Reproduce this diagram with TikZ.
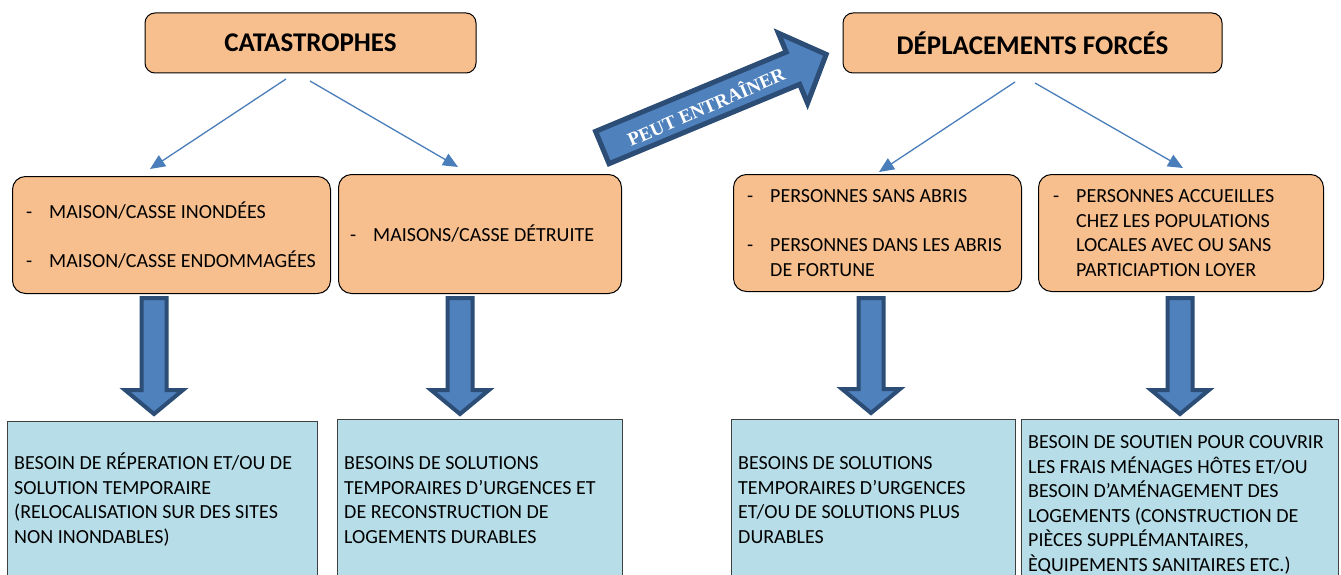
\documentclass[tikz,border=0pt]{standalone}
\usepackage{fontspec}
\setmainfont{Carlito}
\newfontfamily\serifb{Liberation Serif}
\usetikzlibrary{calc,arrows.meta}
\definecolor{orfill}{HTML}{F7BF8E}
\definecolor{bxfill}{HTML}{B7DEE8}
\definecolor{arfill}{HTML}{4F81BD}
\definecolor{arline}{HTML}{2C4D75}
\definecolor{thinblue}{HTML}{4A7EBB}
\newcommand\dashitem{\makebox[23pt][l]{-}}
\newcommand\bigdown[2]{%
  \draw[bigarrow] let \p1=(#1), \p2=(#2) in
    (\x1-12.5pt,\y1) -- (\x1-12.5pt,\y2+24pt) -- (\x1-29pt,\y2+24pt) -- (\x2,\y2)
    -- (\x1+29pt,\y2+24pt) -- (\x1+12.5pt,\y2+24pt) -- (\x1+12.5pt,\y1) -- cycle;}
\tikzset{
  titlebox/.style={draw=black, line width=1pt, fill=orfill, rounded corners=10pt,
    font=\fontsize{27}{30}\selectfont\bfseries, minimum height=60pt, inner sep=0pt},
  obox/.style={draw=black, line width=1pt, fill=orfill, rounded corners=13pt,
    anchor=north west, inner sep=0pt},
  otext/.style={anchor=west, align=left, inner sep=0pt, font=\fontsize{20}{24.5}\selectfont},
  bbox/.style={draw=black!75, line width=1.3pt, fill=bxfill, anchor=north west, inner sep=0pt},
  btext/.style={anchor=north west, align=left, inner sep=0pt, font=\fontsize{20}{24.5}\selectfont},
  thinarrow/.style={draw=thinblue, line width=1.3pt, -{Triangle[length=15pt,width=13pt]}, fill=none},
  bigarrow/.style={draw=arline, fill=arfill, line width=4pt, line join=miter},
  diagarrow/.style={draw=arline, fill=arfill, line width=5pt, line join=miter}
}
\begin{document}
\begin{tikzpicture}[x=1pt,y=-1pt]
\clip (0,0) rectangle (1341,575);
\fill[white] (0,0) rectangle (1341,575);

% titles
\node[titlebox, minimum width=331pt] (cat) at (310.5,43) {CATASTROPHES};
\node[titlebox, minimum width=379pt] (dep) at (1032.5,43) {DÉPLACEMENTS FORCÉS};

% orange boxes
\node[obox, minimum width=318pt, minimum height=117pt] (o1) at (12,176) {};
\node[obox, minimum width=283pt, minimum height=119pt] (o2) at (338,174) {};
\node[obox, minimum width=288pt, minimum height=117pt] (o3) at (733,174) {};
\node[obox, minimum width=285pt, minimum height=117pt] (o4) at (1038,174) {};

\node[otext] (ot1) at ($(o1.west)+(14,0)$)
  {\dashitem MAISON/CASSE INONDÉES\\[24.5pt]\dashitem MAISON/CASSE ENDOMMAGÉES};
\node[otext] (ot2) at ($(o2.west)+(12,0)$)
  {\dashitem MAISONS/CASSE DÉTRUITE};
\node[otext] (ot3) at ($(o3.west)+(14,0)$)
  {\dashitem PERSONNES SANS ABRIS\\[24.5pt]\dashitem PERSONNES DANS LES ABRIS\\\hspace*{23pt}DE FORTUNE};
\node[otext] (ot4) at ($(o4.west)+(15,0)$)
  {\dashitem PERSONNES ACCUEILLES\\\hspace*{23pt}CHEZ LES POPULATIONS\\\hspace*{23pt}LOCALES AVEC OU SANS\\\hspace*{23pt}PARTICIAPTION LOYER};

% blue boxes
\node[bbox, minimum width=310pt, minimum height=200pt] (b1) at (7,421) {};
\node[bbox, minimum width=285pt, minimum height=200pt] (b2) at (337,419) {};
\node[bbox, minimum width=284pt, minimum height=200pt] (b3) at (731,419) {};
\node[bbox, minimum width=317pt, minimum height=200pt] (b4) at (1021,419) {};

\node[btext] (bt1) at (14,452.3)
  {\strut BESOIN DE RÉPERATION ET/OU DE\\SOLUTION TEMPORAIRE\\(RELOCALISATION SUR DES SITES\\NON INONDABLES)};
\node[btext] (bt2) at (344,452.3)
  {\strut BESOINS DE SOLUTIONS\\TEMPORAIRES D’URGENCES ET\\DE RECONSTRUCTION DE\\LOGEMENTS DURABLES};
\node[btext] (bt3) at (738,452.3)
  {\strut BESOINS DE SOLUTIONS\\TEMPORAIRES D’URGENCES\\ET/OU DE SOLUTIONS PLUS\\DURABLES};
\node[btext] (bt4) at (1028,431.2)
  {\strut BESOIN DE SOUTIEN POUR COUVRIR\\LES FRAIS MÉNAGES HÔTES ET/OU\\BESOIN D’AMÉNAGEMENT DES\\LOGEMENTS (CONSTRUCTION DE\\PIÈCES SUPPLÉMANTAIRES,\\ÈQUIPEMENTS SANITAIRES ETC.)};

% thin connectors
\coordinate (c1s) at (286,79);  \coordinate (c1e) at (150,169);
\coordinate (c2s) at (310,81);  \coordinate (c2e) at (458,167);
\coordinate (d1s) at (1015,82); \coordinate (d1e) at (879,172);
\coordinate (d2s) at (1035,83); \coordinate (d2e) at (1183,168);
\draw[thinarrow] (c1s) -- (c1e);
\draw[thinarrow] (c2s) -- (c2e);
\draw[thinarrow] (d1s) -- (d1e);
\draw[thinarrow] (d2s) -- (d2e);

% big down arrows
\coordinate (a1t) at (154,298);   \coordinate (a1b) at (154,414);
\coordinate (a2t) at (460,298);   \coordinate (a2b) at (460,414);
\coordinate (a3t) at (871,298);   \coordinate (a3b) at (871,413);
\coordinate (a4t) at (1180,298);  \coordinate (a4b) at (1180,414);
\bigdown{a1t}{a1b}
\bigdown{a2t}{a2b}
\bigdown{a3t}{a3b}
\bigdown{a4t}{a4b}

% diagonal arrow
\coordinate (pa) at (600,148.5);
\begin{scope}[shift={(pa)}, rotate=22.6]
  \draw[diagarrow] (2.5,-17.5) -- (209,-17.5) -- (209,-38) -- (245,0) -- (209,38) -- (209,17.5) -- (2.5,17.5) -- cycle;
  \node[text=white, font=\serifb\fontsize{19}{21}\selectfont\bfseries, rotate=23.5] (pt) at (114,1) {PEUT ENTRAÎNER};
\end{scope}
\end{tikzpicture}
\end{document}
